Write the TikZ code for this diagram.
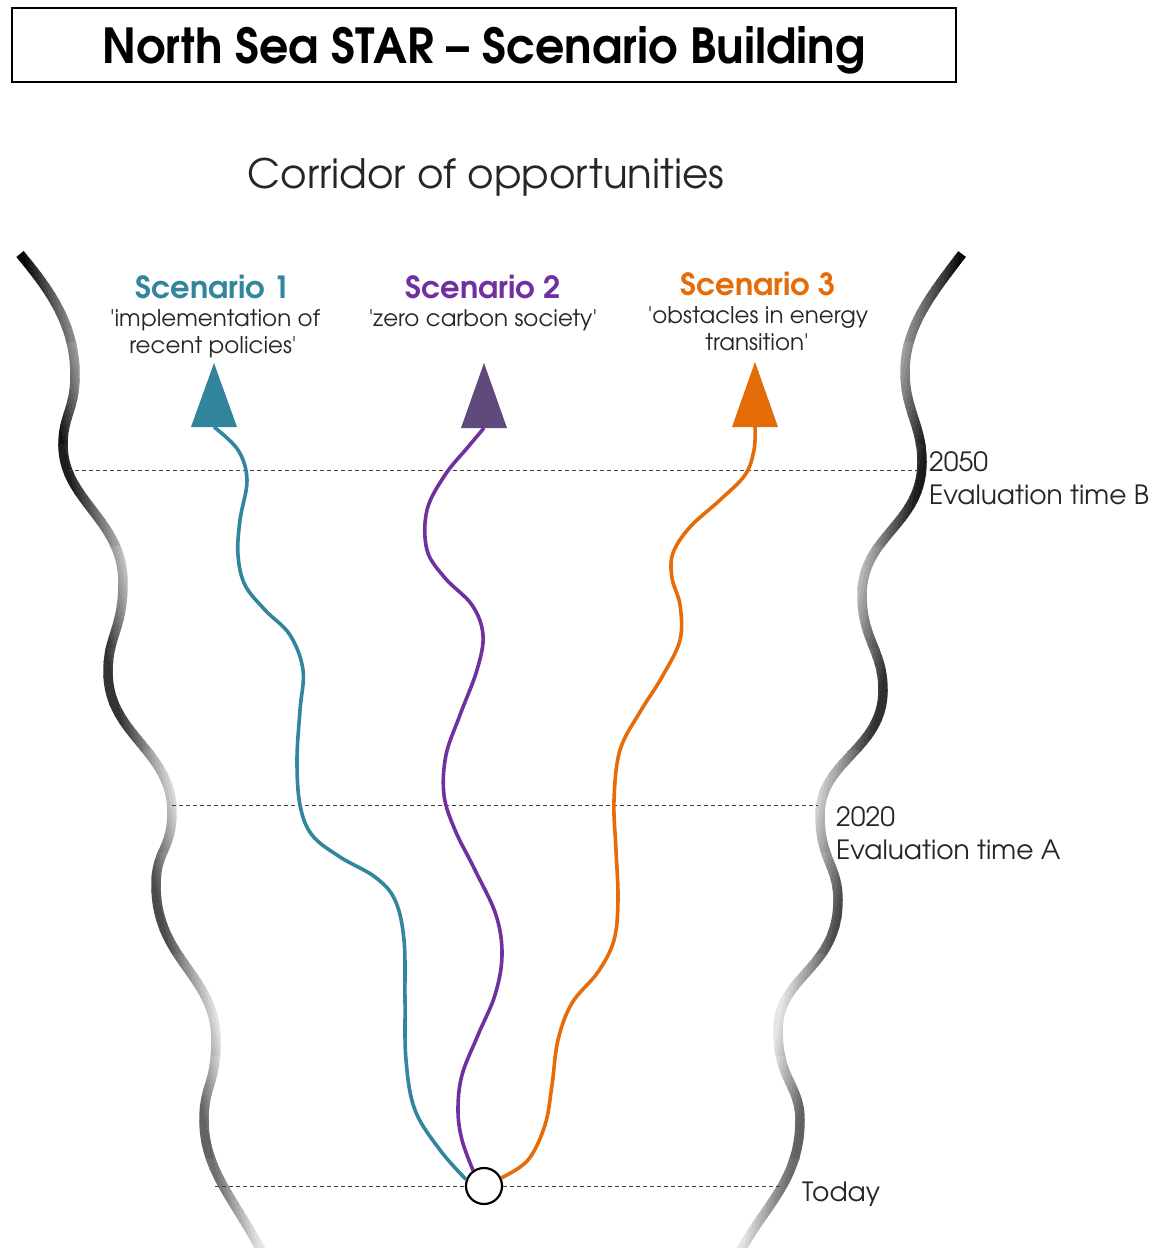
\documentclass[tikz,border=0pt]{standalone}
\usepackage{fontspec}
\setmainfont{texgyreadventor-regular.otf}[BoldFont=texgyreadventor-bold.otf]
\usepackage{graphicx}
\usetikzlibrary{calc}
\definecolor{sone}{HTML}{31859C}
\definecolor{stwo}{HTML}{7030A0}
\definecolor{sthree}{HTML}{E46C0A}
\definecolor{trione}{HTML}{31849B}
\definecolor{tritwo}{HTML}{604A7B}
\definecolor{trithree}{HTML}{E36C09}
\definecolor{txt}{HTML}{262626}
\def\leftpath{(20,254) .. controls (50,290) and (75,325) .. (75,375) .. controls (75,410) and (63,415) .. (63,445) .. controls (63,500) and (123,520) .. (123,582) .. controls (123,630) and (108,635) .. (108,672) .. controls (108,735) and (172,750) .. (172,812) .. controls (172,850) and (156,850) .. (156,885) .. controls (156,960) and (216,975) .. (216,1040) .. controls (216,1085) and (204,1085) .. (204,1120) .. controls (204,1170) and (235,1200) .. (262,1252)}
\def\rightpath{(962,254) .. controls (935,290) and (905,325) .. (905,372) .. controls (905,410) and (922,425) .. (922,462) .. controls (922,525) and (862,535) .. (862,595) .. controls (862,640) and (883,650) .. (883,690) .. controls (883,750) and (820,760) .. (820,815) .. controls (820,860) and (838,865) .. (838,900) .. controls (838,970) and (778,975) .. (778,1030) .. controls (778,1080) and (800,1085) .. (800,1120) .. controls (800,1180) and (765,1205) .. (740,1252)}
\begin{document}
\begin{tikzpicture}[x=1pt,y=-1pt,
  bound/.style={line width=9.5pt},
  sline/.style={line width=3.6pt},
  dashline/.style={draw=black!75, line width=0.9pt, dash pattern=on 4pt off 3pt},
  lbl/.style={text=txt, inner sep=0pt, font=\fontsize{26.5}{30}\selectfont},
  subl/.style={text=txt, inner sep=0pt, anchor=base, font=\fontsize{23}{27}\selectfont},
  stitle/.style={inner sep=0pt, anchor=base, font=\bfseries\fontsize{30.5}{33}\selectfont}]
\useasboundingbox (0,0) rectangle (1159,1248);
% title
\node[draw=black, line width=2pt, minimum width=944pt, minimum height=74pt, inner sep=0pt, text depth=0pt] (title) at (484,45) {\resizebox{763pt}{37pt}{\bfseries North Sea STAR – Scenario Building}};
\node[anchor=base, text=txt, inner sep=0pt, font=\fontsize{40.5}{44}\selectfont] (corridor) at (486,188) {Corridor of opportunities};
% left boundary with gradient
\foreach \j in {0,...,9} {
  \foreach \i in {0,...,15} {
    \pgfmathsetmacro\ya{240+\j*102}
    \pgfmathsetmacro\yb{\ya+104}
    \pgfmathsetmacro\aa{-12+\i*3.125}
    \pgfmathsetmacro\ab{\aa+3.5}
    \pgfmathtruncatemacro\pc{max(10, min(92, 90-45*(\aa+1.5)/28) - 0.045*(\ya+51-440))}
    \begin{scope}
      \clip ({0.209*\ya-29+\aa},\ya) -- ({0.209*\ya-29+\ab},\ya) -- ({0.209*\yb-29+\ab},\yb) -- ({0.209*\yb-29+\aa},\yb) -- cycle;
      \draw[bound, color=black!\pc] \leftpath;
    \end{scope}
  }
}
% right boundary with gradient
\foreach \j in {0,...,9} {
  \foreach \i in {0,...,15} {
    \pgfmathsetmacro\ya{240+\j*102}
    \pgfmathsetmacro\yb{\ya+104}
    \pgfmathsetmacro\aa{-12+\i*3.5}
    \pgfmathsetmacro\ab{\aa+3.9}
    \pgfmathtruncatemacro\pc{max(10, min(92, 90-45*(\aa+1.75)/32) - 0.045*(\ya+51-460))}
    \begin{scope}
      \clip ({1008.9-0.188*\ya-\aa},\ya) -- ({1008.9-0.188*\ya-\ab},\ya) -- ({1008.9-0.188*\yb-\ab},\yb) -- ({1008.9-0.188*\yb-\aa},\yb) -- cycle;
      \draw[bound, color=black!\pc] \rightpath;
    \end{scope}
  }
}
% evaluation lines
\coordinate (bL2050) at (68,470);
\coordinate (bR2050) at (918,470);
\coordinate (bL2020) at (172,805);
\coordinate (bR2020) at (818,805);
\coordinate (bLtoday) at (215,1186);
\coordinate (bRtoday) at (780,1186);
\node[circle, draw=black, line width=2.2pt, fill=white, minimum size=36pt, inner sep=0pt] (today) at (484,1186) {};
\draw[dashline] (bL2050) -- (bR2050);
\draw[dashline] (bL2020) -- (bR2020);
\draw[dashline] (bLtoday) -- (today.west);
\draw[dashline] (today.east) -- (bRtoday);
% arrow heads
\coordinate (t1) at (214,427);
\coordinate (t2) at (484,428);
\coordinate (t3) at (755,427);
\fill[trione] ($(t1)+(-23,0)$) -- ($(t1)+(23,0)$) -- ($(t1)+(0,-64)$) -- cycle;
\fill[tritwo] ($(t2)+(-23,0)$) -- ($(t2)+(23,0)$) -- ($(t2)+(0,-65)$) -- cycle;
\fill[trithree] ($(t3)+(-23,0)$) -- ($(t3)+(23,0)$) -- ($(t3)+(0,-65)$) -- cycle;
% scenario paths
\draw[sline, sone] plot[smooth, tension=0.6] coordinates {(today.160) (440,1150) (415,1110) (406,1060) (405,1000) (404,940) (395,900) (375,877) (340,857) (312,835) (300,805) (297,760) (300,710) (303,670) (290,635) (265,610) (245,585) (238,555) (240,520) (247,480) (238,450) (t1)};
\draw[sline, stwo] plot[smooth, tension=0.6] coordinates {(today.125) (462,1140) (458,1110) (462,1075) (478,1035) (495,995) (502,955) (496,915) (475,870) (455,830) (444,795) (446,755) (460,715) (477,670) (483,635) (472,605) (445,578) (427,550) (427,510) (445,475) (468,447) (t2)};
\draw[sline, sthree] plot[smooth, tension=0.6] coordinates {(today.25) (528,1160) (545,1125) (552,1085) (558,1040) (572,1003) (598,972) (614,940) (618,900) (616,850) (614,800) (620,750) (640,712) (662,677) (680,640) (680,605) (672,578) (673,553) (690,527) (720,500) (745,475) (754,450) (t3)};
% scenario labels
\node[stitle, text=sone] (s1) at (213,298) {Scenario 1};
\node[subl] (s1a) at (215,326) {\textquotesingle implementation of};
\node[subl] (s1b) at (213,353) {recent policies\textquotesingle};
\node[stitle, text=stwo] (s2) at (483,298) {Scenario 2};
\node[subl] (s2a) at (483,326) {\textquotesingle zero carbon society\textquotesingle};
\node[stitle, text=sthree] (s3) at (758,295) {Scenario 3};
\node[subl] (s3a) at (758,323) {\textquotesingle obstacles in energy};
\node[subl] (s3b) at (757,350) {transition\textquotesingle};
% time labels
\node[lbl, anchor=base west] (y2050) at (929,471) {2050};
\node[lbl, anchor=base west] (evB) at (929,504) {Evaluation time B};
\node[lbl, anchor=base west] (y2020) at (836,826) {2020};
\node[lbl, anchor=base west] (evA) at (836,859) {Evaluation time A};
\node[lbl, anchor=base west] (todaylbl) at (802,1201) {Today};
\end{tikzpicture}
\end{document}
